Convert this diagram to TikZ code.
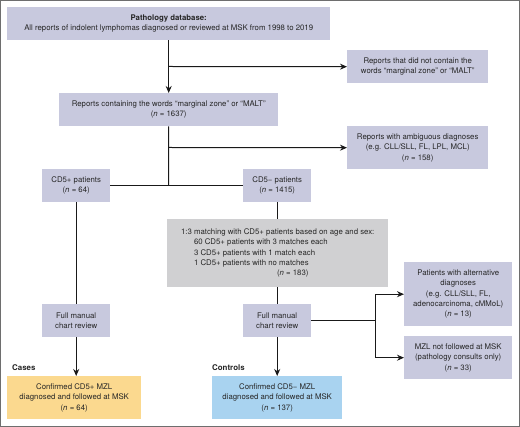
\documentclass[tikz,border=0pt]{standalone}
\usepackage{fontspec}
\setmainfont{TeX Gyre Heros}
\usetikzlibrary{arrows.meta}
\definecolor{lav}{HTML}{C8C9DE}
\definecolor{gry}{HTML}{D0D0D2}
\definecolor{yel}{HTML}{FBD98F}
\definecolor{blu}{HTML}{A9D3F0}
\definecolor{frm}{HTML}{6E6E6E}
\tikzset{
  box/.style={rectangle, fill=lav, draw=none, anchor=north west, inner sep=0pt, align=center,
    font=\fontsize{7.8}{10.3}\selectfont, text=black!85},
  conn/.style={line width=1pt, black!90},
  arr/.style={conn, -{Stealth[length=7pt,width=6pt]}},
  lbl/.style={font=\fontsize{7.9}{9}\selectfont\bfseries, inner sep=0pt, text=black!85},
}
\newcommand{\nn}{(\textit{n} = }
\begin{document}
\begin{tikzpicture}[x=1pt,y=-1pt]
\useasboundingbox (0,0) rectangle (520,427);
\draw[frm, line width=1pt] (0.5,0.5) rectangle (519.5,426.5);

\node[box, minimum width=323pt, minimum height=33pt] (top) at (7,7)
  {{\bfseries Pathology database:}\\All reports of indolent lymphomas diagnosed or reviewed at MSK from 1998 to 2019};
\node[box, minimum width=141pt, minimum height=33pt] (notc) at (347,50)
  {Reports that did not contain the\\words “marginal zone” or “MALT”};
\node[box, minimum width=219pt, minimum height=33pt] (cont) at (59,93)
  {Reports containing the words “marginal zone” or “MALT”\\\nn 1637)};
\node[box, minimum width=141pt, minimum height=43pt] (amb) at (347,126)
  {Reports with ambiguous diagnoses\\(e.g. CLL/SLL, FL, LPL, MCL)\\\nn 158)};
\node[box, minimum width=68pt, minimum height=33pt] (cdp) at (42,169)
  {CD5+ patients\\\nn 64)};
\node[box, minimum width=68pt, minimum height=33pt] (cdn) at (243,169)
  {CD5− patients\\\nn 1415)};
\node[box, fill=gry, minimum width=221pt, minimum height=68pt, align=left] (match) at (167,219)
  {1:3 matching with CD5+ patients based on age and sex:\\
   \hspace*{13pt}60 CD5+ patients with 3 matches each\\
   \hspace*{13pt}3 CD5+ patients with 1 match each\\
   \hspace*{13pt}1 CD5+ patients with no matches\\
   \hspace*{96pt}\nn 183)};
\node[box, minimum width=68pt, minimum height=33pt] (fulll) at (42,304)
  {Full manual\\chart review};
\node[box, minimum width=68pt, minimum height=33pt] (fullr) at (243,304)
  {Full manual\\chart review};
\node[box, fill=yel, minimum width=134pt, minimum height=43pt] (cases) at (7,376)
  {Confirmed CD5+ MZL\\diagnosed and followed at MSK\\\nn 64)};
\node[box, fill=blu, minimum width=130pt, minimum height=43pt] (ctrl) at (212,376)
  {Confirmed CD5− MZL\\diagnosed and followed at MSK\\\nn 137)};
\node[box, minimum width=108pt, minimum height=64pt] (alt) at (404,262)
  {Patients with alternative\\diagnoses\\(e.g. CLL/SLL, FL,\\adenocarcinoma, cMMoL)\\\nn 13)};
\node[box, minimum width=108pt, minimum height=43pt] (mzl) at (404,336)
  {MZL not followed at MSK\\(pathology consults only)\\\nn 33)};

\node[lbl, anchor=west] (lcases) at (12,368) {Cases};
\node[lbl, anchor=west] (lctrl) at (212,368) {Controls};

\coordinate (j1) at (168.5,66.5);
\coordinate (j2) at (168.5,147.5);
\coordinate (j3) at (168.5,185.5);
\coordinate (j4) at (375,320.5);

\draw[arr] (top.south) -- (cont.north);
\draw[arr] (j1) -- (notc.west);
\draw[conn] (cont.south) -- (j3);
\draw[arr] (j2) -- (amb.west);
\draw[conn] (cdp.east) -- (cdn.west);
\draw[conn] (cdn.south) -- (cdn.south |- match.north);
\draw[conn] (match.south -| fullr.north) -- (fullr.north);
\draw[conn] (cdp.south) -- (fulll.north);
\draw[arr] (fulll.south) -- (fulll.south |- cases.north);
\draw[arr] (fullr.south) -- (fullr.south |- ctrl.north);
\draw[conn] (fullr.east |- j4) -- (j4);
\draw[arr] (j4) |- (alt.west);
\draw[arr] (j4) |- (mzl.west);
\end{tikzpicture}
\end{document}
